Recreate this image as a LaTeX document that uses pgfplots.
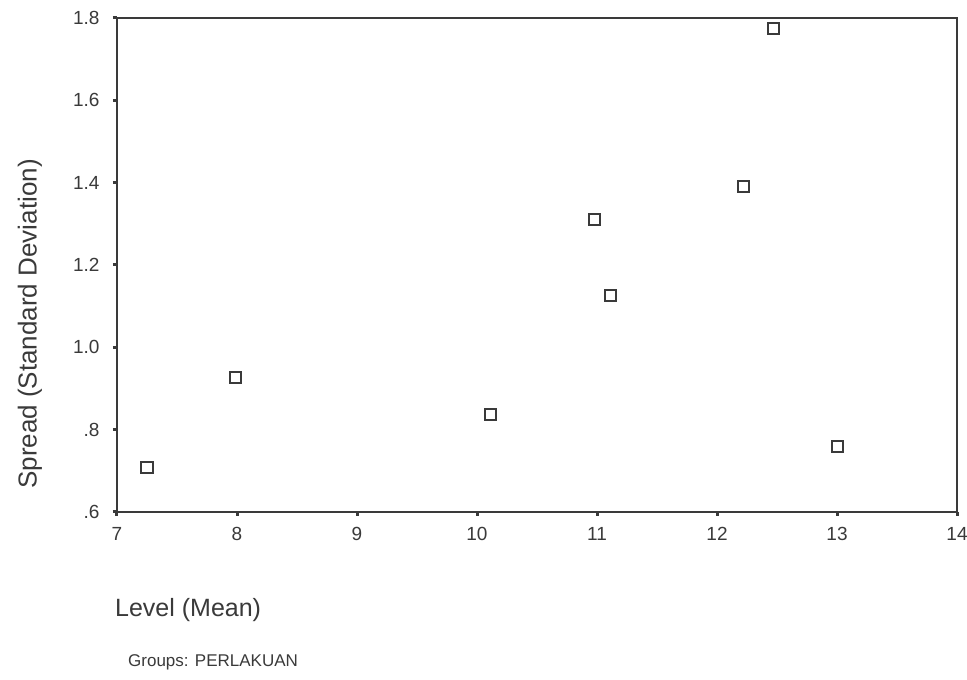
\documentclass[border=0pt]{standalone}
\usepackage{pgfplots}
\pgfplotsset{compat=1.18}
\usepackage{fontspec}
\setmainfont{Liberation Sans}
\definecolor{ink}{HTML}{3A3A3A}
\begin{document}
\begin{tikzpicture}[x=1pt,y=1pt]
\path[use as bounding box,fill=white] (-117,-168) rectangle (850,512);
\begin{axis}[
  at={(0,0)}, anchor=south west,
  scale only axis, width=840pt, height=494pt,
  xmin=7, xmax=14, ymin=0.6, ymax=1.8,
  xtick={7,8,9,10,11,12,13,14},
  ytick={0.6,0.8,1.0,1.2,1.4,1.6,1.8},
  yticklabels={.6,.8,1.0,1.2,1.4,1.6,1.8},
  tick pos=left, tick align=outside,
  major tick length=4pt,
  every tick/.style={ink, line width=3pt},
  axis line style={ink, line width=1.3pt},
  tick label style={font=\fontsize{19}{22}\selectfont, text=ink},
  /pgf/number format/assume math mode=true,
  yticklabel style={xshift=-10pt},
  xticklabel style={yshift=-8pt},
  clip=false,
]
\addplot[only marks, mark=square, mark size=5.5pt, mark options={ink, line width=2pt}]
  coordinates {
  (7.25,0.707) (7.99,0.926) (10.11,0.838) (10.98,1.31) (11.11,1.126)
  (12.22,1.39) (12.47,1.775) (13.0,0.76)
  };
\end{axis}
\node[rotate=90, text=ink, font=\fontsize{26}{30}\selectfont] at (-87,188) {Spread (Standard Deviation)};
\node[anchor=west, text=ink, font=\fontsize{25}{30}\selectfont, inner sep=0pt] at (-2,-98) {Level (Mean)};
\node[anchor=west, text=ink, font=\fontsize{17}{20}\selectfont, inner sep=0pt] at (11,-150) {Groups: PERLAKUAN};
\end{tikzpicture}
\end{document}
